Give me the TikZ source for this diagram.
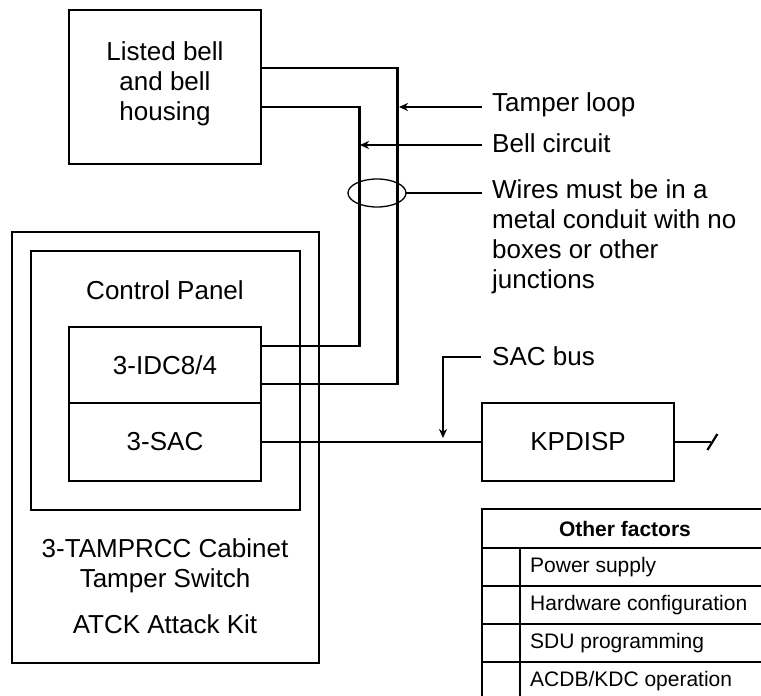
\documentclass[tikz,border=0pt]{standalone}
\usepackage{fontspec}
\setmainfont{Liberation Sans}
\usetikzlibrary{calc,arrows.meta}
\begin{document}
\begin{tikzpicture}[x=1pt,y=-1pt,
  box/.style={draw,line width=2.8pt,rectangle,inner sep=0pt},
  wire/.style={line width=2.8pt},
  lbl/.style={inner sep=0pt,anchor=west,font=\fontsize{26}{30}\selectfont},
  maintext/.style={inner sep=0pt,align=center,font=\fontsize{26}{30}\selectfont},
  leader/.style={line width=2pt,-{Stealth[length=9pt,width=8pt]}},
  thin/.style={line width=1.3pt},
  tbl/.style={line width=2.6pt},
  tbltext/.style={inner sep=0pt,anchor=west,font=\fontsize{21}{25}\selectfont}]
\useasboundingbox (0,0) rectangle (761,696);
% boxes
\node[box,minimum width=192pt,minimum height=154pt] (bell) at (165,87) {};
\node[maintext] (belltxt) at (165,84) {Listed bell\\and bell\\housing};
\node[box,minimum width=307pt,minimum height=431pt] (cab) at (165.5,447.5) {};
\node[box,minimum width=269pt,minimum height=259pt] (cp) at (165.5,380.5) {};
\node[maintext] (cptxt) at (165,290) {Control Panel};
\node[box,minimum width=192pt,minimum height=76pt] (idc) at (165,365) {};
\node[maintext] (idctxt) at (165,365) {3-IDC8/4};
\node[box,minimum width=192pt,minimum height=78pt] (sac) at (165,442) {};
\node[maintext] (sactxt) at (165,442) {3-SAC};
\node[maintext] (cabtxt) at (165,566) {3-TAMPRCC Cabinet\\Tamper Switch};
\node[maintext] (atck) at (165,624) {ATCK Attack Kit};
\node[box,minimum width=192pt,minimum height=78pt] (kp) at (578,442) {};
\node[maintext] (kptxt) at (578,442) {KPDISP};
% wires
\draw[wire] ($(bell.east)+(0,-19)$) -| ($(idc.east)+(135,19)$) -- ($(idc.east)+(0,19)$);
\draw[wire] ($(bell.east)+(0,20)$) -| ($(idc.east)+(97,-19)$) -- ($(idc.east)+(0,-19)$);
\draw[wire] (sac.east) -- (kp.west);
\coordinate (kpend) at ($(kp.east)+(36,0)$);
\draw[wire] (kp.east) -- (kpend);
\draw[line width=2.2pt] ($(kpend)+(-4,8)$) -- ($(kpend)+(6,-8)$);
% labels
\node[lbl] (tamper) at (492,105) {Tamper loop};
\draw[leader] (482,107) -- (399,107);
\node[lbl] (bellc) at (492,143) {Bell circuit};
\draw[leader] (482,145) -- (360,145);
\draw[thin] (377,193) ellipse [x radius=29, y radius=14];
\coordinate (ell) at (406,193);
\node[lbl,anchor=north west,align=left] (wires) at (492,179) {Wires must be in a\\metal conduit with no\\boxes or other\\junctions};
\draw[thin] (ell) -- (482,193);
\node[lbl] (sacbus) at (492,356) {SAC bus};
\draw[line width=1.5pt,-{Stealth[length=9pt,width=8pt]}] (481,357) -| (443,438);
% table
\draw[tbl] (761,509) -- (482,509) -- (482,697);
\draw[tbl] (482,548) -- (761,548);
\draw[tbl] (482,586) -- (761,586);
\draw[tbl] (482,624) -- (761,624);
\draw[tbl] (482,662) -- (761,662);
\draw[tbl] (520,548) -- (520,697);
\node[inner sep=0pt,font=\fontsize{21}{25}\selectfont\bfseries] (hdr) at (625,529) {Other factors};
\node[tbltext] (r1) at (530,567) {Power supply};
\node[tbltext] (r2) at (530,605) {Hardware configuration};
\node[tbltext] (r3) at (530,643) {SDU programming};
\node[tbltext] (r4) at (530,681) {ACDB/KDC operation};
\end{tikzpicture}
\end{document}
